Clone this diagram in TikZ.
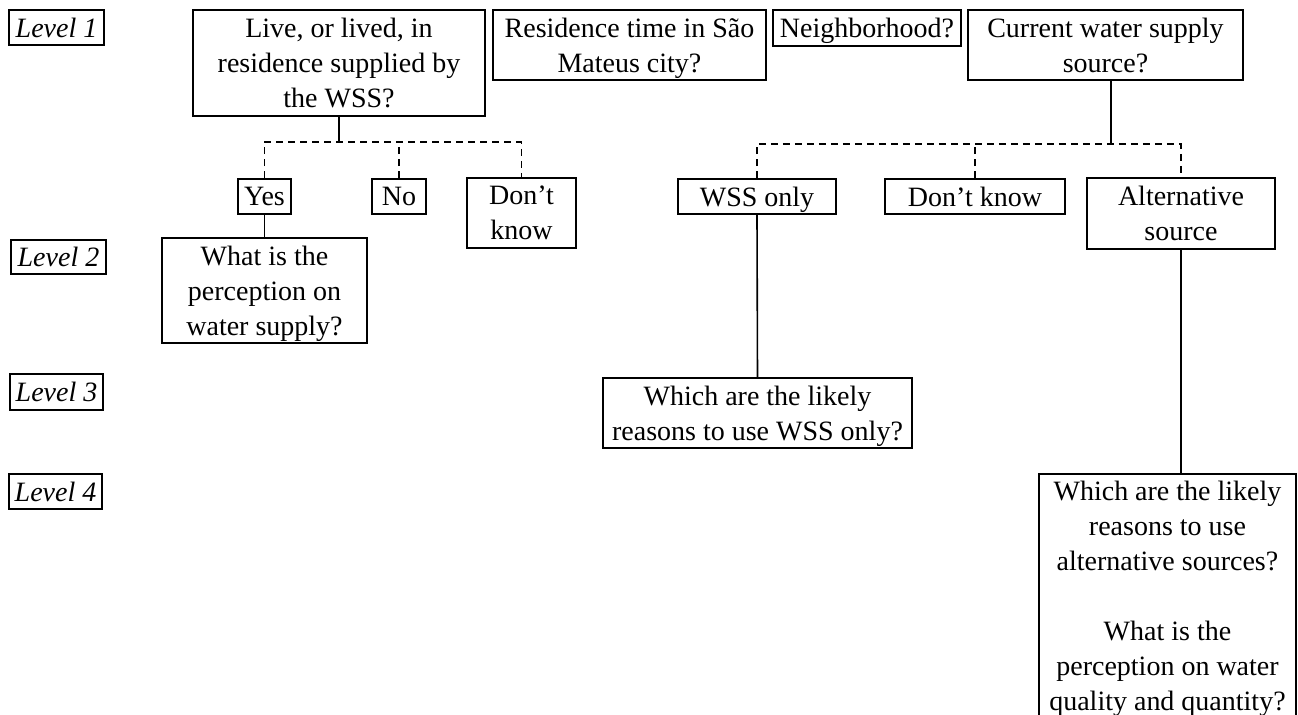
\documentclass[tikz,border=0pt]{standalone}
\usepackage{fontspec}
\setmainfont{Liberation Serif}
\begin{document}
\begin{tikzpicture}[x=0.5pt,y=-0.5pt,
  box/.style={draw, line width=0.8pt, inner sep=0pt, align=center, text depth=0pt, font=\fontsize{14}{17.5}\selectfont},
  lvl/.style={box, font=\fontsize{14}{17.5}\selectfont\itshape},
  solidc/.style={line width=0.8pt},
  dashc/.style={line width=0.8pt, dash pattern=on 3.5pt off 2.5pt}]
\useasboundingbox (0,0) rectangle (1298,715);
\fill[white] (0,0) rectangle (1298,715);
\clip (0,0) rectangle (1298,715);
% level labels
\node[lvl, minimum width=47.5pt, minimum height=17.5pt] (l1) at (56.5,27.5) {Level 1};
\node[lvl, minimum width=47.5pt, minimum height=17pt] (l2) at (58.5,257) {Level 2};
\node[lvl, minimum width=46.5pt, minimum height=18pt] (l3) at (56.5,392) {Level 3};
\node[lvl, minimum width=46.5pt, minimum height=17.5pt] (l4) at (55.5,491.5) {Level 4};
% level 1 questions
\node[box, minimum width=146pt, minimum height=53pt] (live) at (339,63) {Live, or lived, in\\residence supplied by\\the WSS?};
\node[box, minimum width=136.5pt, minimum height=35pt] (res) at (629.5,45) {Residence time in São\\Mateus city?};
\node[box, minimum width=94pt, minimum height=18pt] (nei) at (867,28) {Neighborhood?};
\node[box, minimum width=137.5pt, minimum height=35pt] (cur) at (1105.5,45) {Current water supply\\source?};
% answers
\node[box, minimum width=26.5pt, minimum height=17.5pt] (yes) at (264.5,196.5) {Yes};
\node[box, minimum width=27pt, minimum height=17.5pt] (no) at (399,196.5) {No};
\node[box, minimum width=54.5pt, minimum height=35pt] (dk1) at (521.5,213) {Don’t\\know};
\node[box, minimum width=79pt, minimum height=17.5pt] (wss) at (757,196.5) {WSS only};
\node[box, minimum width=90pt, minimum height=17.5pt] (dk2) at (975,196.5) {Don’t know};
\node[box, minimum width=94pt, minimum height=35.5pt] (alt) at (1181,213.5) {Alternative\\source};
% deeper questions
\node[box, minimum width=102.5pt, minimum height=52.5pt] (what) at (264.5,290.5) {What is the\\perception on\\water supply?};
\node[box, minimum width=154.5pt, minimum height=35pt] (whichwss) at (757.5,413) {Which are the likely\\reasons to use WSS only?};
\node[box, minimum width=128.5pt, minimum height=121.5pt] (whichalt) at (1167.5,595.5) {Which are the likely\\reasons to use\\alternative sources?\\[17.5pt]What is the\\perception on water\\quality and quantity?};
% buses
\coordinate (b1) at (339,142);
\coordinate (b2) at (1111,144);
% connectors
\draw[solidc] (live.south) -- (b1);
\draw[dashc] (yes.north) -- (yes.north |- b1) -- (dk1.north |- b1) -- (dk1.north);
\draw[dashc] (no.north) -- (no.north |- b1);
\draw[solidc] (yes.south) -- (what.north);
\draw[solidc] (b2 |- cur.south) -- (b2);
\draw[dashc] (wss.north) -- (wss.north |- b2) -- (alt.north |- b2) -- (alt.north);
\draw[dashc] (dk2.north) -- (dk2.north |- b2);
\draw[solidc] (wss.south) -- (whichwss.north);
\draw[solidc] (alt.south) -- (alt.south |- whichalt.north);
\end{tikzpicture}
\end{document}
